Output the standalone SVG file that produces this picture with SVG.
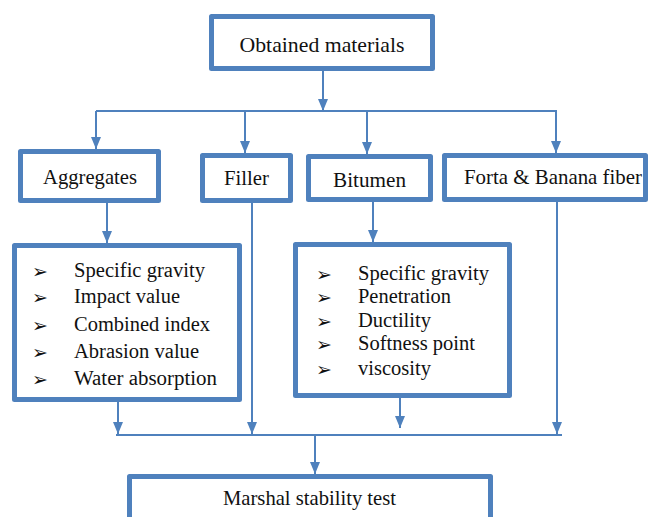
<svg xmlns="http://www.w3.org/2000/svg" width="652" height="517" viewBox="0 0 652 517">
<style>
.box{fill:#fff;stroke:#4F81BD;stroke-width:5;stroke-linejoin:round}
.lbl{font-size:21px;fill:#111;text-anchor:middle}
.item{font-size:20.5px;fill:#111}
.bul{font-size:19px;fill:#111}
.con{fill:none;stroke:#4F81BD;stroke-width:2}
</style>
<defs>
<marker id="ah" viewBox="0 0 12 10" refX="12" refY="5" markerWidth="12" markerHeight="10" markerUnits="userSpaceOnUse" orient="auto">
<path d="M0,0 L12,5 L0,10 z" fill="#4F81BD"/>
</marker>
</defs>
<rect width="652" height="517" fill="#fff"/>
<g id="connectors">
<line class="con" x1="323" y1="71" x2="323" y2="111" marker-end="url(#ah)"/>
<line class="con" x1="96" y1="111" x2="557" y2="111"/>
<line class="con" x1="96" y1="111" x2="96" y2="149" marker-end="url(#ah)"/>
<line class="con" x1="245" y1="111" x2="245" y2="153" marker-end="url(#ah)"/>
<line class="con" x1="367" y1="111" x2="367" y2="154" marker-end="url(#ah)"/>
<line class="con" x1="556" y1="111" x2="556" y2="153" marker-end="url(#ah)"/>
<line class="con" x1="107" y1="203" x2="107" y2="243" marker-end="url(#ah)"/>
<line class="con" x1="373" y1="202" x2="373" y2="242" marker-end="url(#ah)"/>
<line class="con" x1="118" y1="402" x2="118" y2="434" marker-end="url(#ah)"/>
<line class="con" x1="252" y1="203" x2="252" y2="434" marker-end="url(#ah)"/>
<line class="con" x1="400" y1="398" x2="400" y2="428" marker-end="url(#ah)"/>
<line class="con" x1="557" y1="202" x2="557" y2="434" marker-end="url(#ah)"/>
<line class="con" x1="116" y1="435" x2="562" y2="435"/>
<line class="con" x1="315" y1="435" x2="315" y2="474" marker-end="url(#ah)"/>
</g>
<g font-family="'Liberation Serif', 'DejaVu Serif', 'Times New Roman', serif">
<g id="obtained">
<rect class="box" x="211.5" y="16.5" width="221" height="52"/>
<text class="lbl" x="322" y="52" style="font-size:22px" textLength="165" lengthAdjust="spacingAndGlyphs">Obtained materials</text>
</g>
<g id="aggregates">
<rect class="box" x="20.5" y="151.5" width="138" height="49"/>
<text class="lbl" x="90" y="184" textLength="94" lengthAdjust="spacingAndGlyphs">Aggregates</text>
</g>
<g id="filler">
<rect class="box" x="202.5" y="155.5" width="88" height="45"/>
<text class="lbl" x="246.5" y="185" textLength="45" lengthAdjust="spacingAndGlyphs">Filler</text>
</g>
<g id="bitumen">
<rect class="box" x="308.5" y="156.5" width="122" height="43"/>
<text class="lbl" x="369.5" y="187" textLength="73" lengthAdjust="spacingAndGlyphs">Bitumen</text>
</g>
<g id="forta">
<rect class="box" x="444.5" y="155.5" width="201" height="44"/>
<text class="lbl" x="553" y="184" textLength="178" lengthAdjust="spacingAndGlyphs">Forta &amp; Banana fiber</text>
</g>
<g id="aggregate-tests">
<rect class="box" x="14.5" y="245.5" width="225" height="154"/>
<g class="bul" font-family="'DejaVu Sans', sans-serif">
<text x="32" y="278">➢</text>
<text x="32" y="304">➢</text>
<text x="32" y="332">➢</text>
<text x="32" y="359">➢</text>
<text x="32" y="386">➢</text>
</g>
<text class="item" x="74" y="277" textLength="131" lengthAdjust="spacingAndGlyphs">Specific gravity</text>
<text class="item" x="74" y="303" textLength="106" lengthAdjust="spacingAndGlyphs">Impact value</text>
<text class="item" x="74" y="331" textLength="136" lengthAdjust="spacingAndGlyphs">Combined index</text>
<text class="item" x="74" y="358" textLength="125" lengthAdjust="spacingAndGlyphs">Abrasion value</text>
<text class="item" x="74" y="385" textLength="143" lengthAdjust="spacingAndGlyphs">Water absorption</text>
</g>
<g id="bitumen-tests">
<rect class="box" x="295.5" y="244.5" width="214" height="151"/>
<g class="bul" font-family="'DejaVu Sans', sans-serif">
<text x="316" y="281">➢</text>
<text x="316" y="304">➢</text>
<text x="316" y="328">➢</text>
<text x="316" y="351">➢</text>
<text x="316" y="376">➢</text>
</g>
<text class="item" x="358" y="280" textLength="131" lengthAdjust="spacingAndGlyphs">Specific gravity</text>
<text class="item" x="358" y="303" textLength="93" lengthAdjust="spacingAndGlyphs">Penetration</text>
<text class="item" x="358" y="327" textLength="73" lengthAdjust="spacingAndGlyphs">Ductility</text>
<text class="item" x="358" y="350" textLength="117" lengthAdjust="spacingAndGlyphs">Softness point</text>
<text class="item" x="358" y="375" textLength="73" lengthAdjust="spacingAndGlyphs">viscosity</text>
</g>
<g id="marshal">
<rect class="box" x="129.5" y="476.5" width="361" height="44"/>
<text class="lbl" x="309.5" y="505" textLength="173" lengthAdjust="spacingAndGlyphs">Marshal stability test</text>
</g>
</g>
</svg>
